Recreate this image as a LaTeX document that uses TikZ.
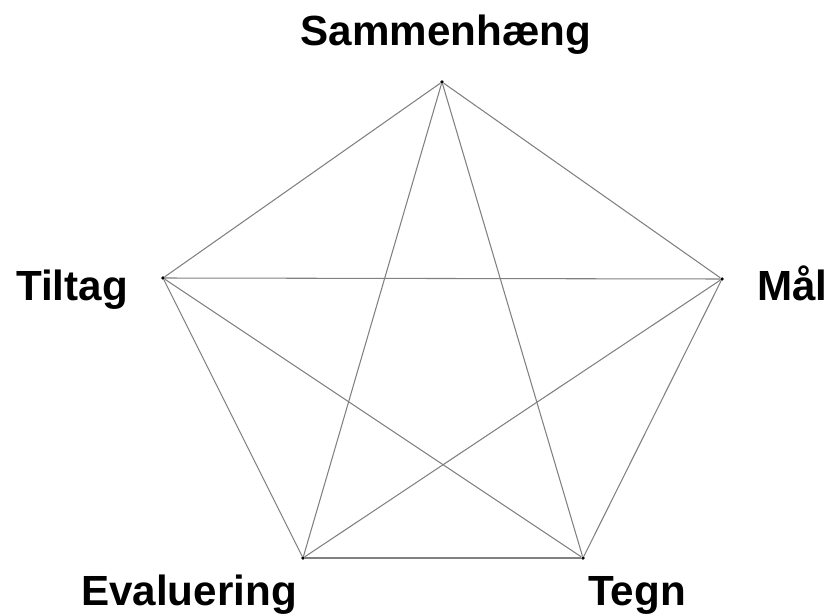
\documentclass[tikz,border=0pt]{standalone}
\usepackage{fontspec}
\setmainfont{Liberation Sans}
\usepackage{tikz}
\usetikzlibrary{positioning}

\tikzset{
    corner/.style={circle, fill=black, inner sep=0pt, minimum size=3pt},
    edge/.style={draw=black!50, line width=0.9pt},
    lbl/.style={font=\fontsize{36}{40}\selectfont\bfseries, inner sep=0pt}
}

\begin{document}
\begin{tikzpicture}[x=0.03cm, y=-0.03cm]
    \useasboundingbox (0,0) rectangle (830,616);

    % pentagon corners
    \node[corner] (S) at (442,82) {};
    \node[corner] (T) at (163,278) {};
    \node[corner] (M) at (722,279) {};
    \node[corner] (E) at (303,558) {};
    \node[corner] (G) at (583,558) {};

    % all pairs joined
    \foreach \a/\b in {S/T, S/M, S/E, S/G, T/M, T/E, T/G, M/E, M/G, E/G}
        \draw[edge] (\a) -- (\b);

    % labels
    \node[lbl, anchor=base] (lS) at (446,45) {Sammenhæng};
    \node[lbl, anchor=base east] (lT) at (128,300) {Tiltag};
    \node[lbl, anchor=base west] (lM) at (757,300) {Mål};
    \node[lbl, anchor=base east] (lE) at (297,605) {Evaluering};
    \node[lbl, anchor=base west] (lG) at (588,605) {Tegn};
\end{tikzpicture}
\end{document}
